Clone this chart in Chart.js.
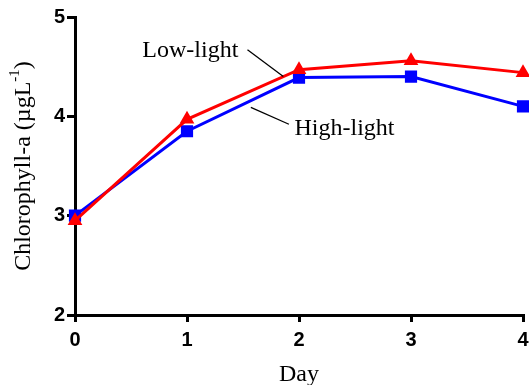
<!DOCTYPE html>
<html>
<head>
<meta charset="utf-8">
<script src="https://cdn.jsdelivr.net/npm/chart.js@4.4.1/dist/chart.umd.min.js"></script>
<style>
  html, body { margin: 0; padding: 0; background: #fff; }
</style>
</head>
<body>
<canvas id="chlChart" width="529" height="385"></canvas>
<script>
const days = [0, 1, 2, 3, 4];
const lowLight = [2.95, 3.97, 4.47, 4.56, 4.44];
const highLight = [3.00, 3.85, 4.39, 4.40, 4.10];
const yTicks = [2, 3, 4, 5];

// label callouts, in data units
const callouts = [
    { text: 'Low-light', x: 1.03, y: 4.60, align: 'center', from: [1.54, 4.67], to: [1.86, 4.40] },
    { text: 'High-light', x: 1.96, y: 3.81, align: 'left', from: [1.57, 4.09], to: [1.91, 3.92] }
];

const serif = '"Liberation Serif", "Times New Roman", serif';

const calloutPlugin = {
    id: 'callouts',
    afterDatasetsDraw(chart) {
        const ctx = chart.ctx;
        const xs = chart.scales.x, ys = chart.scales.y;
        ctx.save();
        ctx.font = '24px ' + serif;
        ctx.fillStyle = '#000';
        ctx.strokeStyle = '#000';
        ctx.lineWidth = 1.3;
        ctx.textBaseline = 'alphabetic';
        callouts.forEach(function(c) {
            ctx.textAlign = c.align;
            ctx.fillText(c.text, xs.getPixelForValue(c.x), ys.getPixelForValue(c.y));
            ctx.beginPath();
            ctx.moveTo(xs.getPixelForValue(c.from[0]), ys.getPixelForValue(c.from[1]));
            ctx.lineTo(xs.getPixelForValue(c.to[0]), ys.getPixelForValue(c.to[1]));
            ctx.stroke();
        });
        ctx.restore();
    },
    afterDraw(chart) {
        // y title with superscript
        const ctx = chart.ctx;
        const area = chart.chartArea;
        const main = 'Chlorophyll-a (\u00b5gL';
        const sup = '-1';
        const tail = ')';
        ctx.save();
        ctx.fillStyle = '#000';
        ctx.font = '24px ' + serif;
        const w1 = ctx.measureText(main).width;
        const w3 = ctx.measureText(tail).width;
        ctx.font = '15px ' + serif;
        const w2 = ctx.measureText(sup).width;
        const total = w1 + w2 + w3;
        ctx.translate(30, (area.top + area.bottom) / 2);
        ctx.rotate(-Math.PI / 2);
        ctx.textAlign = 'left';
        ctx.textBaseline = 'alphabetic';
        let x = -total / 2;
        ctx.font = '24px ' + serif;
        ctx.fillText(main, x, 0);
        x += w1;
        ctx.font = '15px ' + serif;
        ctx.fillText(sup, x, -11);
        x += w2;
        ctx.font = '24px ' + serif;
        ctx.fillText(tail, x, 0);
        ctx.restore();
    }
};

const ctx = document.getElementById('chlChart').getContext('2d');
new Chart(ctx, {
    type: 'line',
    data: {
        datasets: [
            {
                label: 'Low-light',
                data: days.map((d, i) => ({ x: d, y: lowLight[i] })),
                borderColor: '#ff0000',
                backgroundColor: '#ff0000',
                borderWidth: 3,
                pointStyle: 'triangle',
                pointRadius: 5.5,
                pointHoverRadius: 5.5,
                tension: 0,
                clip: false
            },
            {
                label: 'High-light',
                data: days.map((d, i) => ({ x: d, y: highLight[i] })),
                borderColor: '#0000ff',
                backgroundColor: '#0000ff',
                borderWidth: 3,
                pointStyle: 'rect',
                pointRadius: 6.5,
                pointHoverRadius: 6.5,
                tension: 0,
                clip: false
            }
        ]
    },
    options: {
        responsive: false,
        animation: false,
        layout: { autoPadding: false, padding: { top: 17, right: 6, left: 0, bottom: 0 } },
        plugins: {
            legend: { display: false },
            tooltip: { enabled: false }
        },
        scales: {
            x: {
                type: 'linear',
                min: 0,
                max: 4,
                afterFit: function(s) { s.height = 70; s.paddingLeft = 0; s.paddingRight = 0; },
                afterBuildTicks: function(s) { s.ticks = days.map(v => ({ value: v })); },
                border: { color: '#000', width: 3 },
                grid: { drawOnChartArea: false, drawTicks: true, tickLength: 7, color: '#000', lineWidth: 3 },
                ticks: {
                    color: '#000',
                    padding: 6,
                    font: { family: '"Liberation Sans", Arial, sans-serif', size: 20, weight: 'bold' }
                },
                title: {
                    display: true,
                    text: 'Day',
                    color: '#000',
                    padding: { top: 0, bottom: -4 },
                    font: { family: serif, size: 24 }
                }
            },
            y: {
                min: 2,
                max: 5,
                afterFit: function(s) { s.width = 75; },
                afterBuildTicks: function(s) { s.ticks = yTicks.map(v => ({ value: v })); },
                border: { color: '#000', width: 3 },
                grid: { drawOnChartArea: false, drawTicks: true, tickLength: 8, color: '#000', lineWidth: 3 },
                ticks: {
                    color: '#000',
                    padding: 2,
                    font: { family: '"Liberation Sans", Arial, sans-serif', size: 20, weight: 'bold' }
                }
            }
        }
    },
    plugins: [calloutPlugin]
});
</script>
</body>
</html>
